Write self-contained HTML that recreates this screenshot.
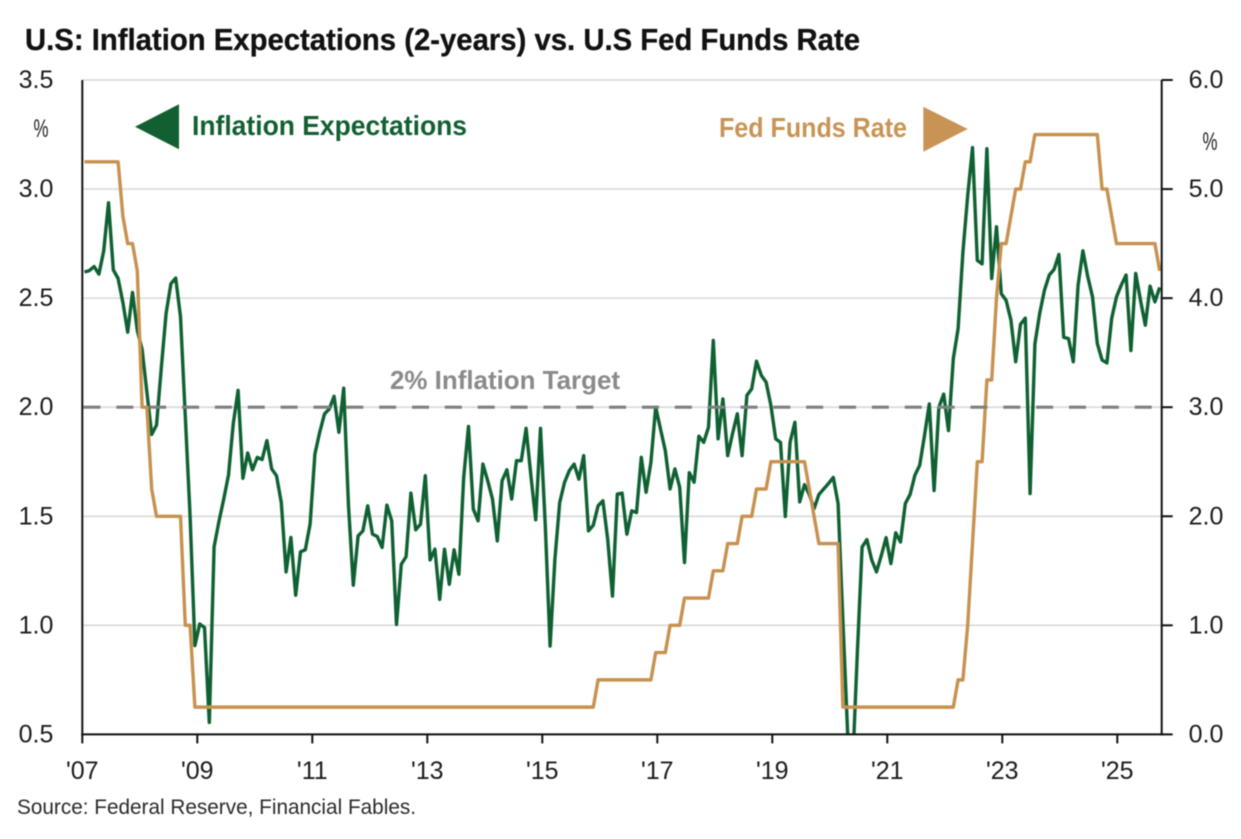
<!DOCTYPE html>
<html lang="en">
<head>
<meta charset="utf-8">
<title>U.S: Inflation Expectations (2-years) vs. U.S Fed Funds Rate</title>
<style>
  html, body { margin: 0; padding: 0; background: #fff; }
  #chart { display: block; width: 1241px; height: 839px; filter: blur(0.45px); font-family: "Liberation Sans", sans-serif; }
</style>
</head>
<body>
<svg id="chart" xmlns="http://www.w3.org/2000/svg" width="1241" height="839" viewBox="0 0 1241 839">
  <defs>
    <clipPath id="plot-clip"><rect x="83" y="78" width="1078" height="656"/></clipPath>
  </defs>
  <rect x="0" y="0" width="1241" height="839" fill="#ffffff"/>
  <text x="25" y="50" font-size="31" font-weight="700" fill="#111111" stroke="#111111" stroke-width="0.3" textLength="835" lengthAdjust="spacingAndGlyphs">U.S: Inflation Expectations (2-years) vs. U.S Fed Funds Rate</text>
  <g id="grid"></g>
  <g id="series" clip-path="url(#plot-clip)"></g>
  <g id="target"></g>
  <g id="axes"></g>
  <text x="41" y="137" font-size="25" fill="#222222" text-anchor="middle" textLength="15" lengthAdjust="spacingAndGlyphs">%</text>
  <text x="1210" y="150" font-size="25" fill="#222222" text-anchor="middle" textLength="15" lengthAdjust="spacingAndGlyphs">%</text>
  <polygon points="135,126.7 179,104.3 179,149.3" fill="#125f31"/>
  <text x="192" y="135" font-size="27.5" font-weight="700" fill="#125f31" textLength="275" lengthAdjust="spacingAndGlyphs">Inflation Expectations</text>
  <text x="719" y="137" font-size="27.5" font-weight="700" fill="#c89455" textLength="188" lengthAdjust="spacingAndGlyphs">Fed Funds Rate</text>
  <polygon points="923.3,106.7 923.3,151.7 967.7,129" fill="#c89455"/>
  <text x="390" y="389" font-size="26" font-weight="700" fill="#8a8a8a" textLength="230" lengthAdjust="spacingAndGlyphs">2% Inflation Target</text>
  <text x="17" y="814" font-size="21" fill="#2b2b2b" textLength="399" lengthAdjust="spacingAndGlyphs">Source: Federal Reserve, Financial Fables.</text>
</svg>
<script>
// Monthly values, January 2007 onward.
const inflationExpectations = [
  2.62,2.626,2.645,2.61,2.716,2.937,2.63,2.59,2.48,2.344,
  2.526,2.352,2.265,2.068,1.875,1.918,2.18,2.43,2.566,2.592,
  2.415,1.957,1.50,0.907,1.006,0.99,0.555,1.36,1.475,1.578,
  1.689,1.926,2.077,1.674,1.79,1.713,1.77,1.76,1.847,1.717,
  1.686,1.563,1.245,1.403,1.138,1.337,1.346,1.464,1.785,1.885,
  1.969,1.992,2.05,1.885,2.087,1.548,1.184,1.41,1.433,1.548,
  1.418,1.407,1.357,1.551,1.479,1.004,1.28,1.315,1.606,1.438,
  1.464,1.686,1.30,1.349,1.119,1.349,1.188,1.346,1.234,1.678,
  1.912,1.533,1.479,1.739,1.663,1.579,1.387,1.663,1.713,1.579,
  1.755,1.755,1.903,1.686,1.484,1.903,1.456,0.905,1.303,1.563,
  1.655,1.709,1.739,1.67,1.778,1.433,1.459,1.548,1.571,1.395,
  1.134,1.602,1.606,1.418,1.525,1.517,1.77,1.61,1.747,2.0,
  1.90,1.801,1.625,1.717,1.633,1.288,1.70,1.656,1.867,1.839,
  1.908,2.306,1.855,2.038,1.778,1.878,1.97,1.778,2.054,2.084,
  2.211,2.146,2.115,2.008,1.855,1.839,1.499,1.84,1.931,1.566,
  1.645,1.60,1.535,1.60,1.625,1.65,1.678,1.558,1.02,0.5,
  0.34,0.87,1.359,1.393,1.30,1.245,1.32,1.402,1.283,1.424,
  1.382,1.558,1.60,1.688,1.734,1.87,2.015,1.618,2.0,2.06,
  1.893,2.222,2.36,2.71,2.97,3.19,2.673,2.657,3.185,2.59,
  2.827,2.52,2.49,2.40,2.208,2.38,2.408,1.604,2.29,2.43,
  2.537,2.606,2.632,2.70,2.32,2.315,2.208,2.56,2.717,2.60,
  2.506,2.292,2.216,2.203,2.407,2.506,2.56,2.606,2.26,2.613,
  2.49,2.376,2.555,2.483,2.549
];
const fedFundsRate = [
  5.25,5.25,5.25,5.25,5.25,5.25,5.25,5.25,4.75,4.5,
  4.5,4.25,3,3,2.25,2,2,2,2,2,
  2,1,1,0.25,0.25,0.25,0.25,0.25,0.25,0.25,
  0.25,0.25,0.25,0.25,0.25,0.25,0.25,0.25,0.25,0.25,
  0.25,0.25,0.25,0.25,0.25,0.25,0.25,0.25,0.25,0.25,
  0.25,0.25,0.25,0.25,0.25,0.25,0.25,0.25,0.25,0.25,
  0.25,0.25,0.25,0.25,0.25,0.25,0.25,0.25,0.25,0.25,
  0.25,0.25,0.25,0.25,0.25,0.25,0.25,0.25,0.25,0.25,
  0.25,0.25,0.25,0.25,0.25,0.25,0.25,0.25,0.25,0.25,
  0.25,0.25,0.25,0.25,0.25,0.25,0.25,0.25,0.25,0.25,
  0.25,0.25,0.25,0.25,0.25,0.25,0.25,0.5,0.5,0.5,
  0.5,0.5,0.5,0.5,0.5,0.5,0.5,0.5,0.5,0.75,
  0.75,0.75,1,1,1,1.25,1.25,1.25,1.25,1.25,
  1.25,1.5,1.5,1.5,1.75,1.75,1.75,2,2,2,
  2.25,2.25,2.25,2.5,2.5,2.5,2.5,2.5,2.5,2.5,
  2.5,2.25,2,1.75,1.75,1.75,1.75,1.75,0.25,0.25,
  0.25,0.25,0.25,0.25,0.25,0.25,0.25,0.25,0.25,0.25,
  0.25,0.25,0.25,0.25,0.25,0.25,0.25,0.25,0.25,0.25,
  0.25,0.25,0.5,0.5,1,1.75,2.5,2.5,3.25,3.25,
  4,4.5,4.5,4.75,5,5,5.25,5.25,5.5,5.5,
  5.5,5.5,5.5,5.5,5.5,5.5,5.5,5.5,5.5,5.5,
  5.5,5.5,5,5,4.75,4.5,4.5,4.5,4.5,4.5,
  4.5,4.5,4.5,4.5,4.25
];
const leftTickValues = [0.5, 1.0, 1.5, 2.0, 2.5, 3.0, 3.5];
const leftTickLabels = ["0.5", "1.0", "1.5", "2.0", "2.5", "3.0", "3.5"];
const rightTickValues = [0, 1, 2, 3, 4, 5, 6];
const rightTickLabels = ["0.0", "1.0", "2.0", "3.0", "4.0", "5.0", "6.0"];
const yearTickMonths = [0, 24, 48, 72, 96, 120, 144, 168, 192, 216];
const yearTickLabels = ["'07", "'09", "'11", "'13", "'15", "'17", "'19", "'21", "'23", "'25"];
const inflationTarget = 2.0;

const SVG_NS = "http://www.w3.org/2000/svg";
const plotLeft = 82.3, plotRight = 1161.7, plotTop = 80, plotBottom = 734.4;

function yLeft(v) { return plotBottom - (v - 0.5) * (plotBottom - plotTop) / 3; }
function yRight(v) { return plotBottom - v * (plotBottom - plotTop) / 6; }
function xTick(m) { return plotLeft + m * 115 / 24; }
function xData(m) { return 84.5 + m * 4.8; }
function linePath(values, yFn) {
  return values.map(function (v, i) {
    return (i ? "L" : "M") + xData(i).toFixed(2) + " " + yFn(v).toFixed(2);
  }).join(" ");
}
function make(tag, parent, props) {
  const el = document.createElementNS(SVG_NS, tag);
  Object.keys(props).forEach(function (k) { el.setAttribute(k, props[k]); });
  parent.appendChild(el);
  return el;
}

const gridGroup = document.getElementById("grid");
const seriesGroup = document.getElementById("series");
const targetGroup = document.getElementById("target");
const axesGroup = document.getElementById("axes");

leftTickValues.forEach(function (v, i) {
  if (v > 0.5) {
    const grid = make("line", gridGroup, { x1: plotLeft + 1, x2: plotRight, y1: yLeft(v), y2: yLeft(v), stroke: "#d9d9d9", "stroke-width": 1.6 });
    
    
  }
  const label = make("text", axesGroup, { x: 36, y: yLeft(v) + 8, "font-size": 25, fill: "#1c1c1c", "text-anchor": "middle" });
  label.textContent = leftTickLabels[i];
  
  
});

const fedLine = make("path", seriesGroup, { d: "", fill: "none", stroke: "#c8914f", "stroke-width": 3.4, "stroke-linejoin": "round" });
const inflationLine = make("path", seriesGroup, { d: linePath(inflationExpectations, yLeft), fill: "none", stroke: "#0f6132", "stroke-width": 3.4, "stroke-linejoin": "round" });


seriesGroup.appendChild(fedLine);
fedLine.setAttribute("d", linePath(fedFundsRate, yRight));



const targetLine = make("line", targetGroup, { x1: 83.5, x2: 1152, y1: yLeft(inflationTarget), y2: yLeft(inflationTarget), stroke: "#7f7f7f", "stroke-width": 3.2, "stroke-dasharray": "17 15.85" });



const axisLeft = make("line", axesGroup, { x1: plotLeft, x2: plotLeft, y1: plotTop, y2: plotBottom + 1, stroke: "#111111", "stroke-width": 2 });


const axisRight = make("line", axesGroup, { x1: plotRight, x2: plotRight, y1: plotTop, y2: plotBottom + 1, stroke: "#111111", "stroke-width": 2 });


const axisBottom = make("line", axesGroup, { x1: plotLeft - 1, x2: plotRight + 1, y1: plotBottom, y2: plotBottom, stroke: "#111111", "stroke-width": 2 });



rightTickValues.forEach(function (v, i) {
  const tick = make("line", axesGroup, { x1: plotRight, x2: plotRight + 11, y1: yRight(v), y2: yRight(v), stroke: "#111111", "stroke-width": 2 });
  
  
  const label = make("text", axesGroup, { x: 1206, y: yRight(v) + 8, "font-size": 25, fill: "#1c1c1c", "text-anchor": "middle" });
  label.textContent = rightTickLabels[i];
  
  
});

yearTickMonths.forEach(function (m, i) {
  const tick = make("line", axesGroup, { x1: xTick(m), x2: xTick(m), y1: plotBottom, y2: plotBottom + 9, stroke: "#111111", "stroke-width": 2 });
  
  
  const label = make("text", axesGroup, { x: xTick(m), y: 779, "font-size": 25, fill: "#1c1c1c", "text-anchor": "middle" });
  label.textContent = yearTickLabels[i];
  
  
});
</script>
</body>
</html>
